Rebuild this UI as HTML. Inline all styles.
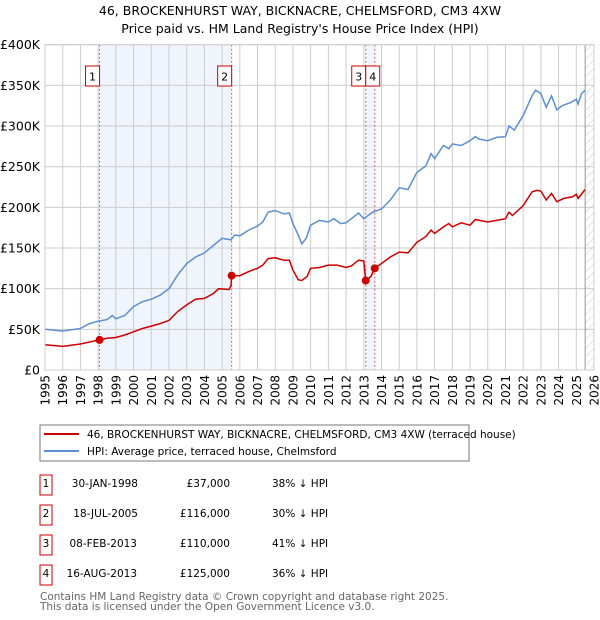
<!DOCTYPE html>
<html><head><meta charset="utf-8"><style>
body{margin:0;background:#fff;font-family:"Liberation Sans","DejaVu Sans",sans-serif;}
#wrap{position:relative;width:600px;height:620px;overflow:hidden;}
</style></head><body><div id="wrap">
<svg id="chart" width="600" height="620" xmlns="http://www.w3.org/2000/svg" font-family="DejaVu Sans, Liberation Sans, sans-serif">
<defs><pattern id="hatch" width="6" height="6" patternUnits="userSpaceOnUse" patternTransform="rotate(45)"><line x1="0" y1="0" x2="0" y2="6" stroke="#ccc" stroke-width="1"/></pattern></defs>
<text x="300" y="15" text-anchor="middle" font-size="12.5" fill="#000">46, BROCKENHURST WAY, BICKNACRE, CHELMSFORD, CM3 4XW</text>
<text x="300" y="33" text-anchor="middle" font-size="12.5" fill="#000">Price paid vs. HM Land Registry's House Price Index (HPI)</text>
<g id="plot"></g>
</svg>
</div>
<script>
const hpiYears=[1995,1996,1997,1997.5,1998,1998.5,1998.8,1999,1999.5,2000,2000.5,2001,2001.5,2002,2002.5,2003,2003.5,2004,2004.5,2005,2005.5,2005.7,2006,2006.5,2007,2007.3,2007.6,2008,2008.5,2008.8,2009,2009.3,2009.5,2009.75,2010,2010.5,2011,2011.3,2011.7,2012,2012.7,2013,2013.5,2014,2014.5,2015,2015.5,2016,2016.5,2016.8,2017,2017.5,2017.8,2018,2018.5,2019,2019.3,2019.5,2020,2020.5,2021,2021.2,2021.5,2022,2022.5,2022.7,2023,2023.3,2023.6,2023.9,2024.2,2024.7,2025,2025.1,2025.3,2025.5];
const hpiValues=[50,48,51,57,60,62,67,63,67,78,84,87,92,100,117,131,139,144,153,162,160,166,165,172,177,182,194,196,192,193,180,166,155,162,178,184,182,186,180,181,193,186,194,198,209,224,222,243,251,266,260,276,272,278,276,282,287,284,282,286,287,300,295,313,337,344,340,323,337,320,325,329,333,327,340,344];
const ppYears=[1995,1996,1997,1998.08,1998.5,1999,1999.5,2000,2000.5,2001,2001.5,2002,2002.5,2003,2003.5,2004,2004.5,2004.8,2005.4,2005.5,2005.54,2006,2006.5,2007,2007.3,2007.6,2008,2008.5,2008.8,2009,2009.3,2009.5,2009.8,2010,2010.5,2011,2011.5,2012,2012.3,2012.7,2013.0,2013.11,2013.4,2013.62,2014,2014.5,2015,2015.5,2016,2016.5,2016.8,2017,2017.5,2017.8,2018,2018.5,2019,2019.3,2020,2020.5,2021,2021.2,2021.4,2022,2022.5,2022.8,2023,2023.3,2023.6,2023.9,2024.3,2024.8,2025,2025.1,2025.5];
const ppValues=[31,29,32,37,39,40,43,47,51,54,57,61,72,80,87,88,94,100,99,104,116,116,121,125,129,137,138,135,135,123,111,110,115,125,126,129,129,126,128,135,134,110,115,125,131,139,145,144,157,164,172,168,176,180,176,181,178,185,182,184,186,194,190,202,219,221,220,209,217,207,211,213,216,211,222];
const saleLabels=["1","2","3","4"];
const saleYears=[1998.08,2005.54,2013.11,2013.62];
const salePrices=[37,116,110,125];
const yTicks=[0,50,100,150,200,250,300,350,400];
const yTickLabels=["£0","£50K","£100K","£150K","£200K","£250K","£300K","£350K","£400K"];
const xTicks=[1995,1996,1997,1998,1999,2000,2001,2002,2003,2004,2005,2006,2007,2008,2009,2010,2011,2012,2013,2014,2015,2016,2017,2018,2019,2020,2021,2022,2023,2024,2025,2026];

const L=45,R=594,T=44.7,B=370,X0=1995,X1=2026,YMAX=400,DATAEND=2025.5;
const xs=v=>L+(v-X0)/(X1-X0)*(R-L);
const ys=v=>B-v/YMAX*(B-T);
const NS="http://www.w3.org/2000/svg";
const g=document.getElementById('plot');
function mk(tag,attrs,parent){const e=document.createElementNS(NS,tag);for(const k in attrs)e.setAttribute(k,attrs[k]);(parent||g).appendChild(e);return e;}

let e=mk('rect',{x:L,y:T,width:R-L,height:B-T,fill:'#fff'});


// shaded bands
[[0,1],[2,3]].forEach(p=>{
  const r=mk('rect',{x:xs(saleYears[p[0]]),y:T,width:xs(saleYears[p[1]])-xs(saleYears[p[0]]),height:B-T,fill:'#f0f4fd'});
  
  
});
// hatch
e=mk('rect',{x:xs(DATAEND),y:T,width:R-xs(DATAEND),height:B-T,fill:'url(#hatch)'});


// gridlines
yTicks.forEach((v,i)=>{
  const l=mk('line',{x1:L,x2:R,y1:ys(v),y2:ys(v),stroke:'#cccccc','stroke-width':1});
  
  
  const t=mk('text',{x:L-5,y:ys(v)+4.5,'text-anchor':'end','font-size':'12.5',fill:'#000'});
  t.textContent=yTickLabels[i];
  
  
});
xTicks.forEach(v=>{
  const l=mk('line',{x1:xs(v),x2:xs(v),y1:T,y2:B,stroke:'#cccccc','stroke-width':1});
  
  
  const t=mk('text',{x:0,y:0,'text-anchor':'end','font-size':'12',fill:'#000',transform:`translate(${xs(v)+4.5},${B+5}) rotate(-90)`});
  t.textContent=String(v);
  
  
});
e=mk('line',{x1:xs(DATAEND),x2:xs(DATAEND),y1:T,y2:B,stroke:'#999','stroke-width':1});


// sale lines
saleYears.forEach(v=>{
  const l=mk('line',{x1:xs(v),x2:xs(v),y1:T,y2:B,stroke:'#e06060','stroke-width':1,'stroke-dasharray':'2,2'});
  
  
});
function pts(xa,ya){return xa.map((x,i)=>xs(x).toFixed(1)+','+ys(ya[i]).toFixed(1)).join(' ');}
e=mk('polyline',{points:pts(hpiYears,hpiValues),fill:'none',stroke:'#5b8fd0','stroke-width':1.5});


e=mk('polyline',{points:pts(ppYears,ppValues),fill:'none',stroke:'#cc0000','stroke-width':1.5});


saleYears.forEach((v,i)=>{
  const c=mk('circle',{cx:xs(v),cy:ys(salePrices[i]),r:4,fill:'#cc0000'});
  
  
  let bx=xs(v)-14;
  if(i===3) bx=xs(saleYears[2]);
  const r=mk('rect',{x:bx,y:66,width:14,height:20,fill:'#fff',stroke:'#cc0000','stroke-width':1});
  
  
  const t=mk('text',{x:bx+7,y:80.5,'text-anchor':'middle','font-size':'11',fill:'#000'});
  t.textContent=saleLabels[i];
  
  
});
e=mk('rect',{x:L,y:T,width:R-L,height:B-T,fill:'none',stroke:'#ccc'});


</script>
<svg style="position:absolute;left:0;top:0" width="600" height="620" xmlns="http://www.w3.org/2000/svg" font-family="DejaVu Sans, Liberation Sans, sans-serif">
<g>
<rect x="40" y="425" width="429" height="36" fill="#fff" stroke="#777"/>
<line x1="44" y1="434" x2="79" y2="434" stroke="#cc0000" stroke-width="2"/>
<text x="87" y="438" font-size="10.5">46, BROCKENHURST WAY, BICKNACRE, CHELMSFORD, CM3 4XW (terraced house)</text>
<line x1="44" y1="451" x2="79" y2="451" stroke="#5b8fd0" stroke-width="2"/>
<text x="87" y="455" font-size="10.5">HPI: Average price, terraced house, Chelmsford</text>
</g>
<g font-size="10.5">
<g><rect x="40" y="475" width="12" height="20" fill="none" stroke="#cc0000"/><text x="46" y="487" text-anchor="middle">1</text><text x="138" y="487" text-anchor="end">30-JAN-1998</text><text x="230" y="487" text-anchor="end">£37,000</text><text x="272" y="487">38% ↓ HPI</text></g>
<g><rect x="40" y="505" width="12" height="20" fill="none" stroke="#cc0000"/><text x="46" y="517" text-anchor="middle">2</text><text x="138" y="517" text-anchor="end">18-JUL-2005</text><text x="230" y="517" text-anchor="end">£116,000</text><text x="272" y="517">30% ↓ HPI</text></g>
<g><rect x="40" y="535" width="12" height="20" fill="none" stroke="#cc0000"/><text x="46" y="547" text-anchor="middle">3</text><text x="137" y="547" text-anchor="end">08-FEB-2013</text><text x="230" y="547" text-anchor="end">£110,000</text><text x="272" y="547">41% ↓ HPI</text></g>
<g><rect x="40" y="565" width="12" height="20" fill="none" stroke="#cc0000"/><text x="46" y="577" text-anchor="middle">4</text><text x="137" y="577" text-anchor="end">16-AUG-2013</text><text x="230" y="577" text-anchor="end">£125,000</text><text x="272" y="577">36% ↓ HPI</text></g>
</g>
<text x="40" y="600" font-size="10.5" fill="#666">Contains HM Land Registry data © Crown copyright and database right 2025.</text>
<text x="40" y="610" font-size="10.5" fill="#666">This data is licensed under the Open Government Licence v3.0.</text>
</svg>
</body></html>
